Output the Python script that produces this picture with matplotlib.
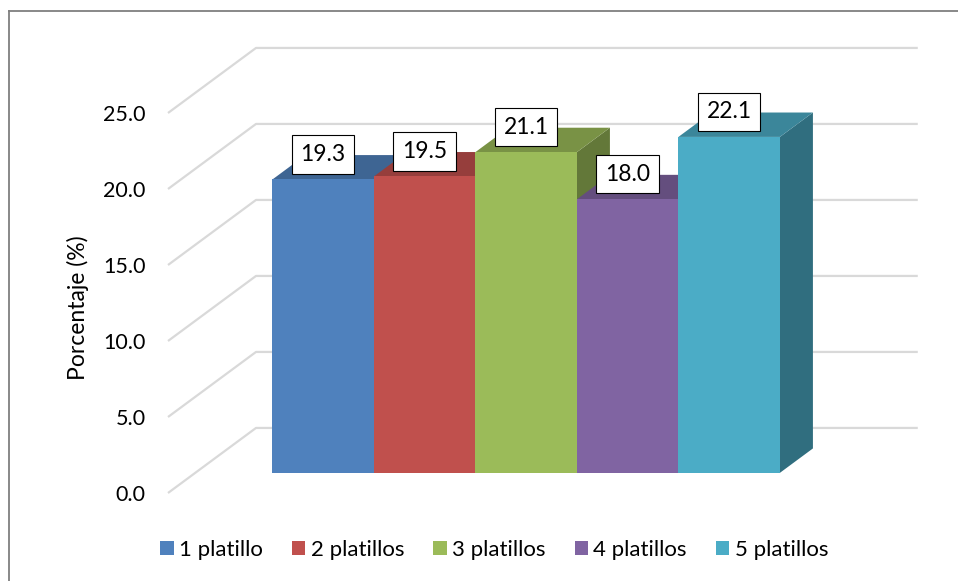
import matplotlib
matplotlib.use('Agg')
import matplotlib.pyplot as plt
from matplotlib.patches import Polygon, Patch
from matplotlib.lines import Line2D

categories = ['1 platillo', '2 platillos', '3 platillos', '4 platillos', '5 platillos']
porcentajes = [19.3, 19.5, 21.1, 18.0, 22.1]
front_colors = ['#4F81BD', '#C0504D', '#9BBB59', '#8064A2', '#4BACC6']
y_ticks = [0, 5, 10, 15, 20, 25]

plt.rcParams['font.family'] = ['Lato', 'DejaVu Sans']
FS = 15.5

W, H = 958, 581
fig = plt.figure(figsize=(W / 100, H / 100), dpi=100)

# plot box: one category is 101.5 px wide, one percent is 15.2 px tall
left_px, bottom_px = 168, 493
px_x, px_y = 101.5, 15.2
ax_w, ax_h = 762, 456
x_left = -1.26
x_right = len(categories) - 1 + 0.5 + 0.76
ax = fig.add_axes([left_px / W, (H - bottom_px) / H, ax_w / W, ax_h / H])
ax.set_xlim(x_left, x_left + ax_w / px_x)
ax.set_ylim(0, ax_h / px_y)

# oblique depth: z=0 is the front of the floor, z=1 the back wall
DX, DY = 0.867, 4.28
z_front, z_back = 0.31, 0.685


def proj(x, y, z):
    return (x + z * DX, y + z * DY)


def shade(color, f):
    c = matplotlib.colors.to_rgb(color)
    return tuple(v * f for v in c)


# walls: gridlines run along the side wall then across the back wall
for t in y_ticks:
    pts = [proj(x_left, t, 0), proj(x_left, t, 1), proj(x_right, t, 1)]
    ax.plot([p[0] for p in pts], [p[1] for p in pts], color='#D9D9D9',
            lw=1.6, solid_capstyle='butt', clip_on=False, zorder=1)

# bars, drawn left to right so each front hides the previous side
for i, (v, c) in enumerate(zip(porcentajes, front_colors)):
    xl, xr = i - 0.5, i + 0.5
    side = [proj(xr, 0, z_front), proj(xr, 0, z_back),
            proj(xr, v, z_back), proj(xr, v, z_front)]
    top = [proj(xl, v, z_front), proj(xr, v, z_front),
           proj(xr, v, z_back), proj(xl, v, z_back)]
    front = [proj(xl, 0, z_front), proj(xr, 0, z_front),
             proj(xr, v, z_front), proj(xl, v, z_front)]
    z = 2 + i
    ax.add_patch(Polygon(side, closed=True, fc=shade(c, 0.64), ec='none', zorder=z))
    ax.add_patch(Polygon(top, closed=True, fc=shade(c, 0.78), ec='none', zorder=z))
    ax.add_patch(Polygon(front, closed=True, fc=c, ec='none', zorder=z))

for i, v in enumerate(porcentajes):
    ax.annotate(f'{v:.1f}', xy=proj(i, v, z_front), xytext=(0, 18),
                textcoords='offset points', ha='center', va='center',
                fontsize=16.5, color='black', zorder=20,
                bbox=dict(boxstyle='square,pad=0.38', fc='white', ec='black', lw=0.8))

ax.set_yticks(y_ticks)
ax.set_yticklabels([f'{t:.1f}' for t in y_ticks], fontsize=FS)
ax.set_xticks([])
ax.tick_params(axis='y', length=0, pad=16)
for s in ax.spines.values():
    s.set_visible(False)
ax.patch.set_visible(False)

ax.set_ylabel('Porcentaje (%)', fontsize=16.5)
ax.yaxis.set_label_coords(-(left_px - 89) / ax_w, (bottom_px - 308) / ax_h)

handles = [Patch(facecolor=c, edgecolor='none', label=l)
           for c, l in zip(front_colors, categories)]
fig.legend(handles=handles, loc='center', bbox_to_anchor=(0.516, 1 - 550 / H),
           ncol=5, frameon=False, fontsize=16, handlelength=0.6, handleheight=0.6,
           handletextpad=0.25, columnspacing=1.3)

# outer chart border
fx, fy = 8.5 / W, 1 - 11 / H
fig.add_artist(Line2D([fx, fx], [0, fy], transform=fig.transFigure, color='#7F7F7F', lw=1.3))
fig.add_artist(Line2D([fx, 1], [fy, fy], transform=fig.transFigure, color='#7F7F7F', lw=1.3))

fig.savefig('out.png', dpi=100)
